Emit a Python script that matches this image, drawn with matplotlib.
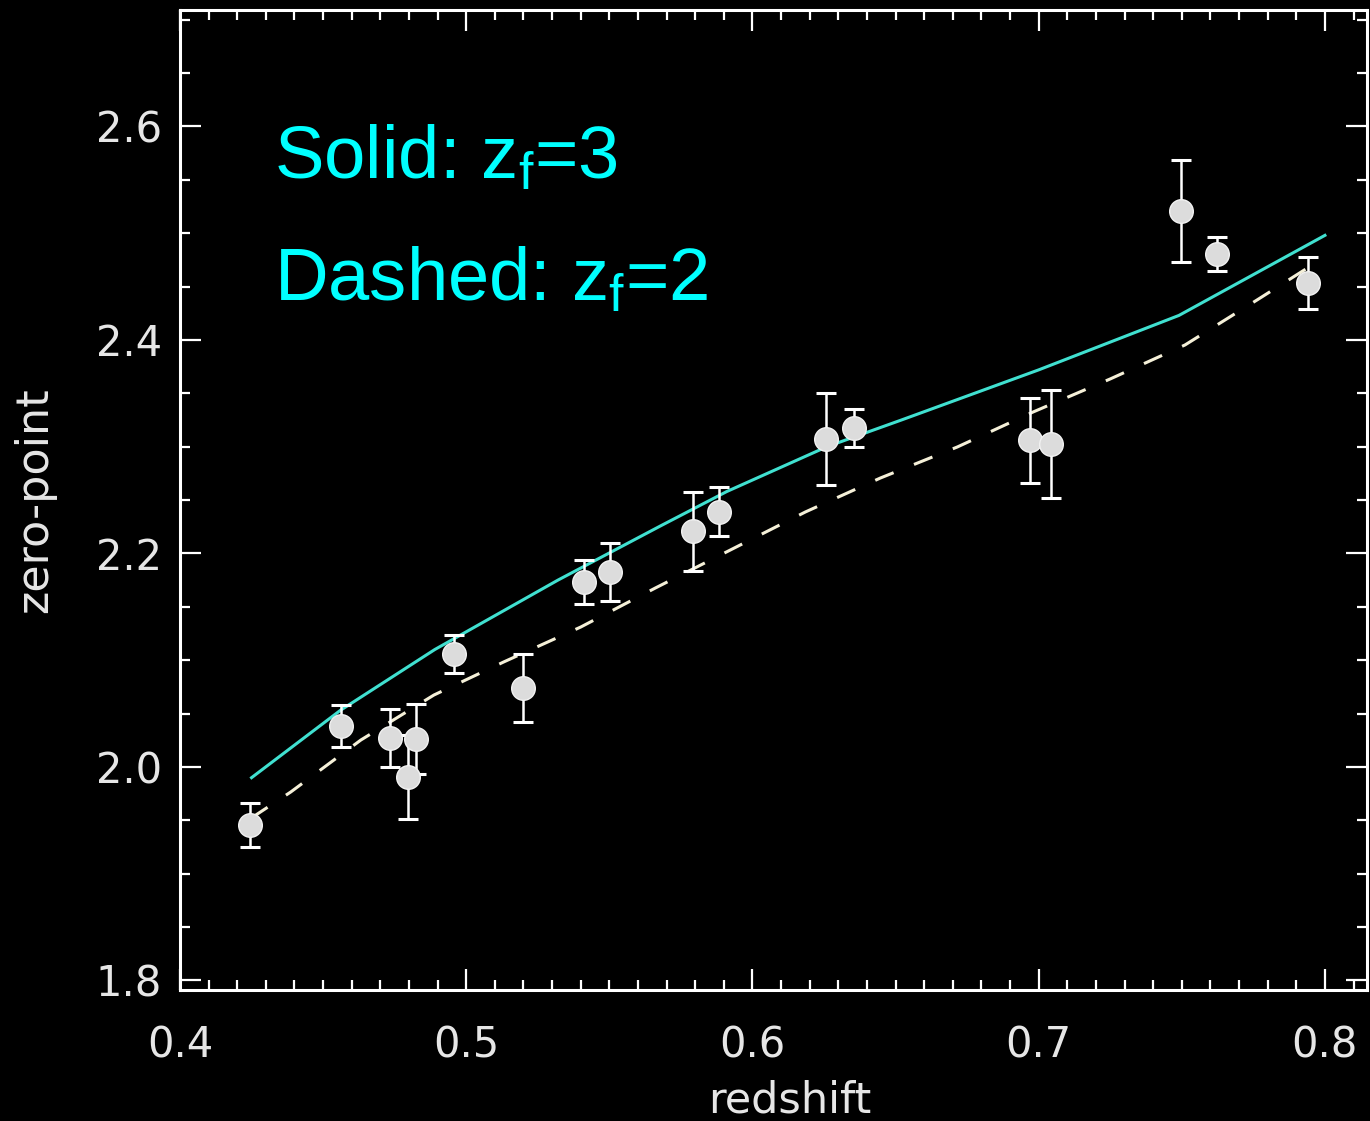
import matplotlib

matplotlib.use("Agg")

import matplotlib.pyplot as plt  # noqa: E402
from matplotlib.ticker import MultipleLocator  # noqa: E402

# cluster measurements
redshift = [0.4245, 0.4562, 0.4733, 0.4795, 0.4823, 0.4958, 0.5199, 0.5411,
            0.5502, 0.5794, 0.5882, 0.6258, 0.6353, 0.6970, 0.7043, 0.7497,
            0.7623, 0.7941]
zero_point = [1.9457, 2.0384, 2.0270, 1.9906, 2.0262, 2.1059, 2.0740, 2.1733,
              2.1827, 2.2210, 2.2390, 2.3070, 2.3176, 2.3060, 2.3026, 2.5208,
              2.4806, 2.4534]
zero_point_err = [0.021, 0.020, 0.027, 0.039, 0.033, 0.018, 0.032, 0.021,
                  0.027, 0.037, 0.023, 0.043, 0.018, 0.040, 0.051, 0.048,
                  0.016, 0.024]

# model tracks
solid_z = [0.425, 0.456, 0.489, 0.532, 0.568, 0.591, 0.626, 0.652, 0.700,
           0.749, 0.800]
solid_zp = [1.990, 2.053, 2.110, 2.175, 2.226, 2.258, 2.300, 2.325, 2.372,
            2.423, 2.498]
dashed_z = [0.4248, 0.4387, 0.4632, 0.4887, 0.5131, 0.5400, 0.5661, 0.5923,
            0.6185, 0.6447, 0.6716, 0.6981, 0.7250, 0.7511, 0.7763, 0.7983]
dashed_zp = [1.952, 1.9766, 2.0253, 2.0674, 2.0984, 2.1311, 2.1677, 2.2033,
             2.2389, 2.2707, 2.2998, 2.3326, 2.3635, 2.3953, 2.4375, 2.4749]

plt.rcParams["mathtext.default"] = "regular"

fig = plt.figure(figsize=(13.7, 11.21), dpi=100, facecolor="black")
ax = fig.add_axes([180 / 1370, 131 / 1121, 1187 / 1370, 980 / 1121])
ax.set_facecolor("black")

ax.plot(solid_z, solid_zp, color="#40e0d0", linewidth=2.2)
ax.plot(dashed_z, dashed_zp, color="#f5f0d8", linewidth=2.2,
        dashes=(6.5, 7.2), dash_capstyle="butt")
ax.errorbar(redshift, zero_point, yerr=zero_point_err, fmt="o",
            color="#dcdcdc", markeredgecolor="#f2f2f2", markersize=17,
            ecolor="white", elinewidth=1.8, capsize=7.2, capthick=2.2)

ax.set_xlim(0.4, 0.8147)
ax.set_ylim(1.7911, 2.7091)
ax.xaxis.set_major_locator(MultipleLocator(0.1))
ax.xaxis.set_minor_locator(MultipleLocator(0.01))
ax.yaxis.set_major_locator(MultipleLocator(0.2))
ax.yaxis.set_minor_locator(MultipleLocator(0.05))
ax.tick_params(which="both", direction="in", colors="white",
               top=True, right=True, width=1.6)
ax.tick_params(which="major", length=15)
ax.tick_params(which="minor", length=7.5)
ax.tick_params(axis="x", which="major", labelsize=30, pad=25,
               labelcolor="#e6e6e6")
ax.tick_params(axis="y", which="major", labelsize=30, pad=13,
               labelcolor="#e6e6e6")
for spine in ax.spines.values():
    spine.set_color("white")
    spine.set_linewidth(2.2)

ax.set_xlabel("redshift", fontsize=31, color="#e6e6e6")
ax.set_ylabel("zero-point", fontsize=32, color="#e6e6e6")
ax.xaxis.set_label_coords(0.514, -0.091)
ax.yaxis.set_label_coords(-0.104, 0.5)

ax.text(274 / 1370, 1 - 178 / 1121, "Solid: z$_{f}$=3", transform=fig.transFigure,
        fontsize=53.5, color="#00ffff", family="Liberation Sans",
        ha="left", va="baseline")
ax.text(274 / 1370, 1 - 300 / 1121, "Dashed: z$_{f}$=2", transform=fig.transFigure,
        fontsize=53.5, color="#00ffff", family="Liberation Sans",
        ha="left", va="baseline")

fig.savefig("out.png", dpi=100, facecolor="black")
plt.close(fig)
